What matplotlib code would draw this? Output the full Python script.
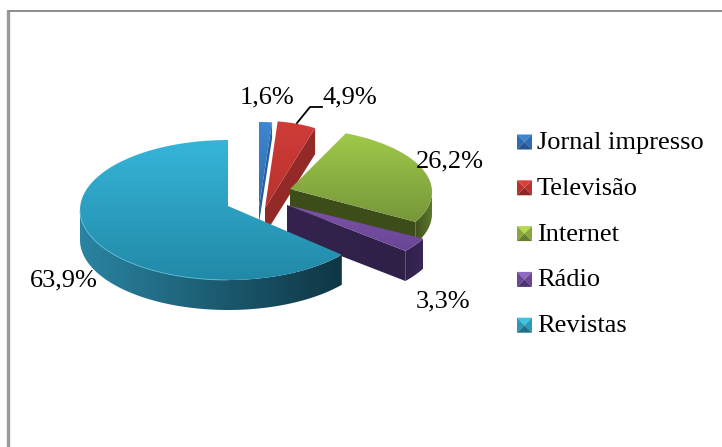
import numpy as np
import matplotlib
matplotlib.use("Agg")
import matplotlib.pyplot as plt
from matplotlib.colors import LinearSegmentedColormap
from matplotlib.patches import Polygon

# Data
categories = ["Jornal impresso", "Televisão", "Internet", "Rádio", "Revistas"]
values = [1.6, 4.9, 26.2, 3.3, 63.9]

plt.rcParams["font.family"] = ["Liberation Serif", "DejaVu Serif"]

# Pixel sized axes, y going down like the picture
fig = plt.figure(figsize=(7.22, 4.47), dpi=100)
ax = fig.add_axes([0, 0, 1, 1])
ax.set_xlim(0, 722)
ax.set_ylim(447, 0)
ax.axis("off")
ax.set_autoscale_on(False)

# Chart frame, only top and left are in the crop
ax.plot([8, 8], [447, 11], color="#9a9a9a", lw=2.4, solid_capstyle="butt")
ax.plot([7, 722], [10.5, 10.5], color="#8c8c8c", lw=1.4, solid_capstyle="butt")

# Slice angles, clockwise from 12 o'clock
edges = np.concatenate([[0], np.cumsum(values)]) * 360 / sum(values)


def arc(cx, cy, rx, ry, t0, t1):
    t = np.radians(np.linspace(t0, t1, 80))
    return np.column_stack([cx + rx * np.sin(t), cy - ry * np.cos(t)])


def grad_fill(points, colors, zorder, horizontal=False):
    # Gradient image clipped by the polygon
    points = np.asarray(points)
    x0, y0 = points.min(axis=0)
    x1, y1 = points.max(axis=0)
    ramp = np.linspace(0, 1, 256)
    img = ramp.reshape(1, -1) if horizontal else ramp.reshape(-1, 1)
    cmap = LinearSegmentedColormap.from_list("g", colors)
    im = ax.imshow(img, cmap=cmap, extent=(x0, x1, y1, y0), origin="upper",
                   aspect="auto", zorder=zorder, interpolation="bilinear")
    patch = Polygon(points, closed=True, transform=ax.transData, fc="none", ec="none")
    ax.add_patch(patch)
    im.set_clip_path(patch)


def draw_slice(i, apex, center, rx, ry, h, top, side, cut, zorder):
    t0, t1 = edges[i], edges[i + 1]
    cx, cy = center
    outer = arc(cx, cy, rx, ry, t0, t1)
    down = np.array([0, h])
    apex = np.array(apex, dtype=float)

    # Cut face on the end of the slice
    end = outer[-1]
    grad_fill([apex, end, end + down, apex + down], cut, zorder, horizontal=True)

    # Outer wall, only the part facing the viewer
    if t1 > 90:
        a = max(t0, 90)
        b = min(t1, 270)
        wall = arc(cx, cy, rx, ry, a, b)
        grad_fill(np.vstack([wall, (wall + down)[::-1]]), side, zorder + 0.1, horizontal=True)

    # Top face
    grad_fill(np.vstack([apex, outer]), top, zorder + 0.2)


# Jornal impresso
draw_slice(0, (259, 207), (259, 207), 130, 85, 16,
           ["#3f86d0", "#2f6bb0"], ["#24558c", "#24558c"], ["#2a5f9e", "#2a5f9e"], 5)
# Televisão
draw_slice(1, (265, 208), (265, 208), 126, 87, 26,
           ["#d03c38", "#b8322e"], ["#8e2724", "#8e2724"], ["#932a27", "#932a27"], 5)
# Internet
draw_slice(2, (290, 189), (289, 192), 143, 64, 22,
           ["#a0ca4a", "#76963a"], ["#3f4f1b", "#5c7a2a"], ["#3d4d1a", "#3d4d1a"], 6)
# Rádio
draw_slice(3, (287, 205), (287, 205), 154, 72, 30,
           ["#7c52aa", "#6a4694"], ["#2f2048", "#392657"], ["#33234e", "#2f2048"], 7)
# Revistas
draw_slice(4, (228, 206), (228, 210), 148, 70, 30,
           ["#36b5d8", "#2289a8"], ["#2a84a2", "#0f3644"], ["#103844", "#103844"], 8)

# Thin light rim on the front edge of the big slice
rim = arc(228, 210, 148, 70, 180, 270)
ax.plot(rim[:, 0], rim[:, 1], color="#5cc4de", lw=0.7, alpha=0.7, zorder=9)

# Value labels
label_pos = [(267, 97), (350, 97), (450, 161), (443, 301), (64, 280)]
for v, (x, y) in zip(values, label_pos):
    ax.text(x, y, f"{v:.1f}%".replace(".", ","), ha="center", va="center",
            fontsize=19, color="black", zorder=12)

# Leader line for Televisão
ax.plot([297, 310, 322], [123, 107, 107], color="black", lw=1.3, zorder=11)

# Legend with bevelled swatches
swatches = [
    ("#3f86d0", "#2f6bb0", "#24558c"),
    ("#d8423e", "#b8322e", "#8e2724"),
    ("#b4d84e", "#8aa63e", "#66802c"),
    ("#9068c0", "#6a4694", "#4c3370"),
    ("#3cc4e0", "#2a9ab8", "#1f7088"),
]
leg_x, leg_s = 517, 15
for i, name in enumerate(categories):
    yc = 142 + i * 45.8
    x0, x1 = leg_x, leg_x + leg_s
    y0, y1 = yc - leg_s / 2, yc + leg_s / 2
    mid = ((x0 + x1) / 2, yc)
    hi, base, lo = swatches[i]
    ax.add_patch(Polygon([(x0, y0), (x1, y0), mid], fc=hi, ec="none", zorder=10))
    ax.add_patch(Polygon([(x0, y0), (x0, y1), mid], fc=base, ec="none", zorder=10))
    ax.add_patch(Polygon([(x1, y0), (x1, y1), mid], fc=base, ec="none", zorder=10))
    ax.add_patch(Polygon([(x0, y1), (x1, y1), mid], fc=lo, ec="none", zorder=10))
    ax.text(537, yc + 1, name, ha="left", va="center", fontsize=19, color="black", zorder=12)

fig.savefig("out.png", dpi=100)
